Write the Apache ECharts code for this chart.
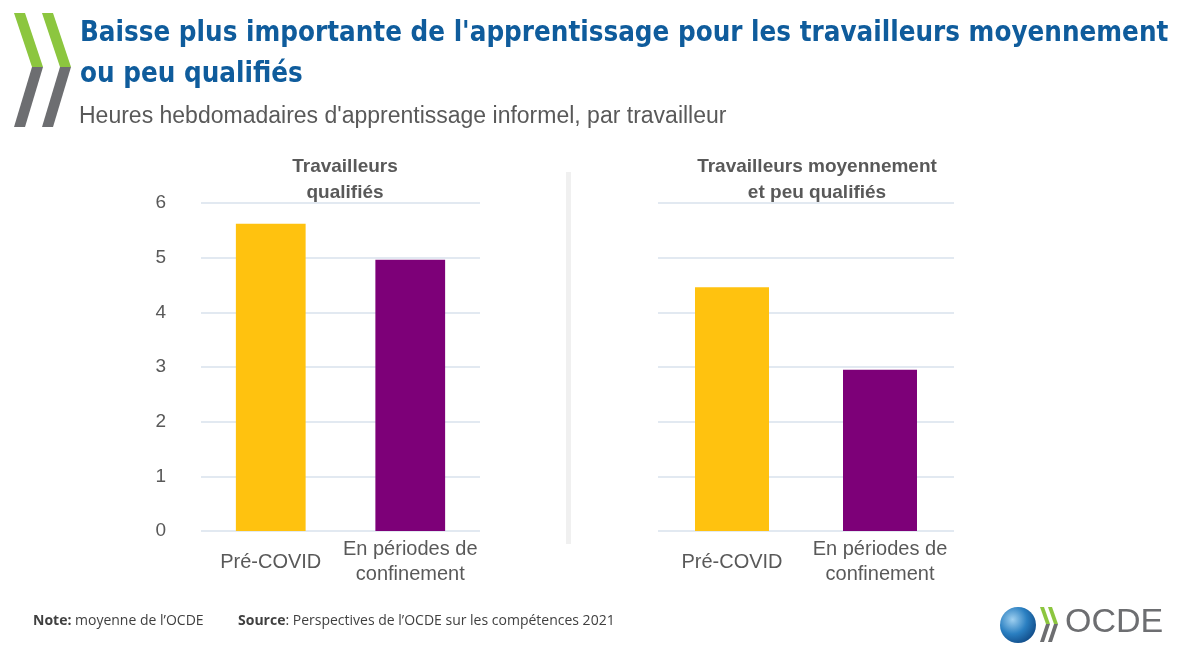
<!DOCTYPE html>
<html>
<head>
<meta charset="utf-8">
<script src="https://cdn.jsdelivr.net/npm/echarts@6/dist/echarts.min.js"></script>
<style>
html, body { margin: 0; padding: 0; background: #fff; }
#chart { width: 1200px; height: 649px; }
</style>
</head>
<body>
<div id="chart"></div>
<script>
// données
var categories = ['Pré-COVID', 'En périodes de\nconfinement'];
var qualifies = [5.62, 4.96];
var moyens = [4.46, 2.95];
var barColors = ['#ffc20f', '#7d0078'];
var yMin = 0, yMax = 6, yStep = 1;

var grey = '#595959';
var gridColor = '#d9e2ec';

var myChart = echarts.init(document.getElementById('chart'));

function colored(values) {
    var out = [];
    for (var i = 0; i < values.length; i++) {
        out.push({ value: values[i], itemStyle: { color: barColors[i] } });
    }
    return out;
}

function xAxisFor(idx) {
    return {
        type: 'category',
        gridIndex: idx,
        data: categories,
        axisLine: { show: false },
        axisTick: { show: false },
        axisLabel: {
            interval: 0,
            color: grey,
            fontSize: 20,
            fontFamily: 'Liberation Sans',
            lineHeight: 25,
            verticalAlign: 'middle',
            margin: 31
        }
    };
}

function yAxisFor(idx, showLabels) {
    return {
        type: 'value',
        gridIndex: idx,
        min: yMin,
        max: yMax,
        interval: yStep,
        axisLine: { show: false },
        axisTick: { show: false },
        axisLabel: {
            show: showLabels,
            color: grey,
            fontSize: 19,
            fontFamily: 'Liberation Sans',
            margin: 35
        },
        splitLine: { lineStyle: { color: gridColor, width: 1.5 } }
    };
}

// chevrons du logo
function chevron(x0, y0, h, tipX, tipY, thick) {
    return [
        {
            type: 'polygon',
            shape: { points: [[x0, y0], [x0 + thick, y0], [x0 + tipX + thick, y0 + tipY], [x0 + tipX, y0 + tipY]] },
            style: { fill: '#8cc63f' }
        },
        {
            type: 'polygon',
            shape: { points: [[x0 + tipX, y0 + tipY], [x0 + tipX + thick, y0 + tipY], [x0 + thick, y0 + h], [x0, y0 + h]] },
            style: { fill: '#6d6e71' }
        }
    ];
}

var graphics = [];
graphics = graphics.concat(chevron(14, 13, 114, 18, 54, 11));
graphics = graphics.concat(chevron(42, 13, 114, 18, 54, 11));
graphics = graphics.concat(chevron(1040, 607, 35, 6, 17, 4));
graphics = graphics.concat(chevron(1048, 607, 35, 6, 17, 4));
graphics.push(
    // séparateur
    { type: 'rect', shape: { x: 566, y: 172, width: 5, height: 372 }, style: { fill: '#f0f0f0' } },
    // globe
    {
        type: 'circle', shape: { cx: 1018, cy: 625, r: 18 },
        style: {
            fill: new echarts.graphic.RadialGradient(0.35, 0.35, 0.8, [
                { offset: 0, color: '#9fd0f0' },
                { offset: 0.5, color: '#2a7fc1' },
                { offset: 1, color: '#0b3f7a' }
            ])
        }
    },
    {
        type: 'text', left: 1065, top: 606,
        style: { text: 'OCDE', fill: '#6d6e71', font: '34px "Liberation Sans"' }
    },
    {
        type: 'text', left: 33, top: 614,
        style: {
            text: '{b|Note:} moyenne de l\u2019OCDE',
            rich: {
                b: { fontWeight: 'bold', fontSize: 14, fontFamily: 'Open Sans', fill: '#404040' }
            },
            fontSize: 14, fontFamily: 'Open Sans', fill: '#404040'
        }
    },
    {
        type: 'text', left: 238, top: 614,
        style: {
            text: '{b|Source}: Perspectives de l\u2019OCDE sur les compétences 2021',
            rich: {
                b: { fontWeight: 'bold', fontSize: 14, fontFamily: 'Open Sans', fill: '#404040' }
            },
            fontSize: 14, fontFamily: 'Open Sans', fill: '#404040'
        }
    }
);

var option = {
    backgroundColor: '#fff',
    animation: false,
    title: [
        {
            text: "Baisse plus importante de l'apprentissage pour les travailleurs moyennement\nou peu qualifiés",
            left: 75, top: 8,
            textStyle: {
                color: '#0f5c9c', fontSize: 27.5, fontWeight: 'bold',
                fontFamily: 'DejaVu Sans Condensed', lineHeight: 41
            }
        },
        {
            text: "Heures hebdomadaires d'apprentissage informel, par travailleur",
            left: 74, top: 100,
            textStyle: { color: grey, fontSize: 23, fontWeight: 'normal', fontFamily: 'Liberation Sans' }
        },
        {
            text: 'Travailleurs\nqualifiés',
            left: 340, top: 149, textAlign: 'center',
            textStyle: { color: grey, fontSize: 19, fontWeight: 'bold', fontFamily: 'Liberation Sans', lineHeight: 26 }
        },
        {
            text: 'Travailleurs moyennement\net peu qualifiés',
            left: 812, top: 149, textAlign: 'center',
            textStyle: { color: grey, fontSize: 19, fontWeight: 'bold', fontFamily: 'Liberation Sans', lineHeight: 26 }
        }
    ],
    grid: [
        { left: 201, width: 279, top: 203, height: 328 },
        { left: 658, width: 296, top: 203, height: 328 }
    ],
    xAxis: [xAxisFor(0), xAxisFor(1)],
    yAxis: [yAxisFor(0, true), yAxisFor(1, false)],
    series: [
        { type: 'bar', xAxisIndex: 0, yAxisIndex: 0, barWidth: '50%', data: colored(qualifies) },
        { type: 'bar', xAxisIndex: 1, yAxisIndex: 1, barWidth: '50%', data: colored(moyens) }
    ],
    graphic: graphics
};

myChart.setOption(option);
</script>
</body>
</html>
